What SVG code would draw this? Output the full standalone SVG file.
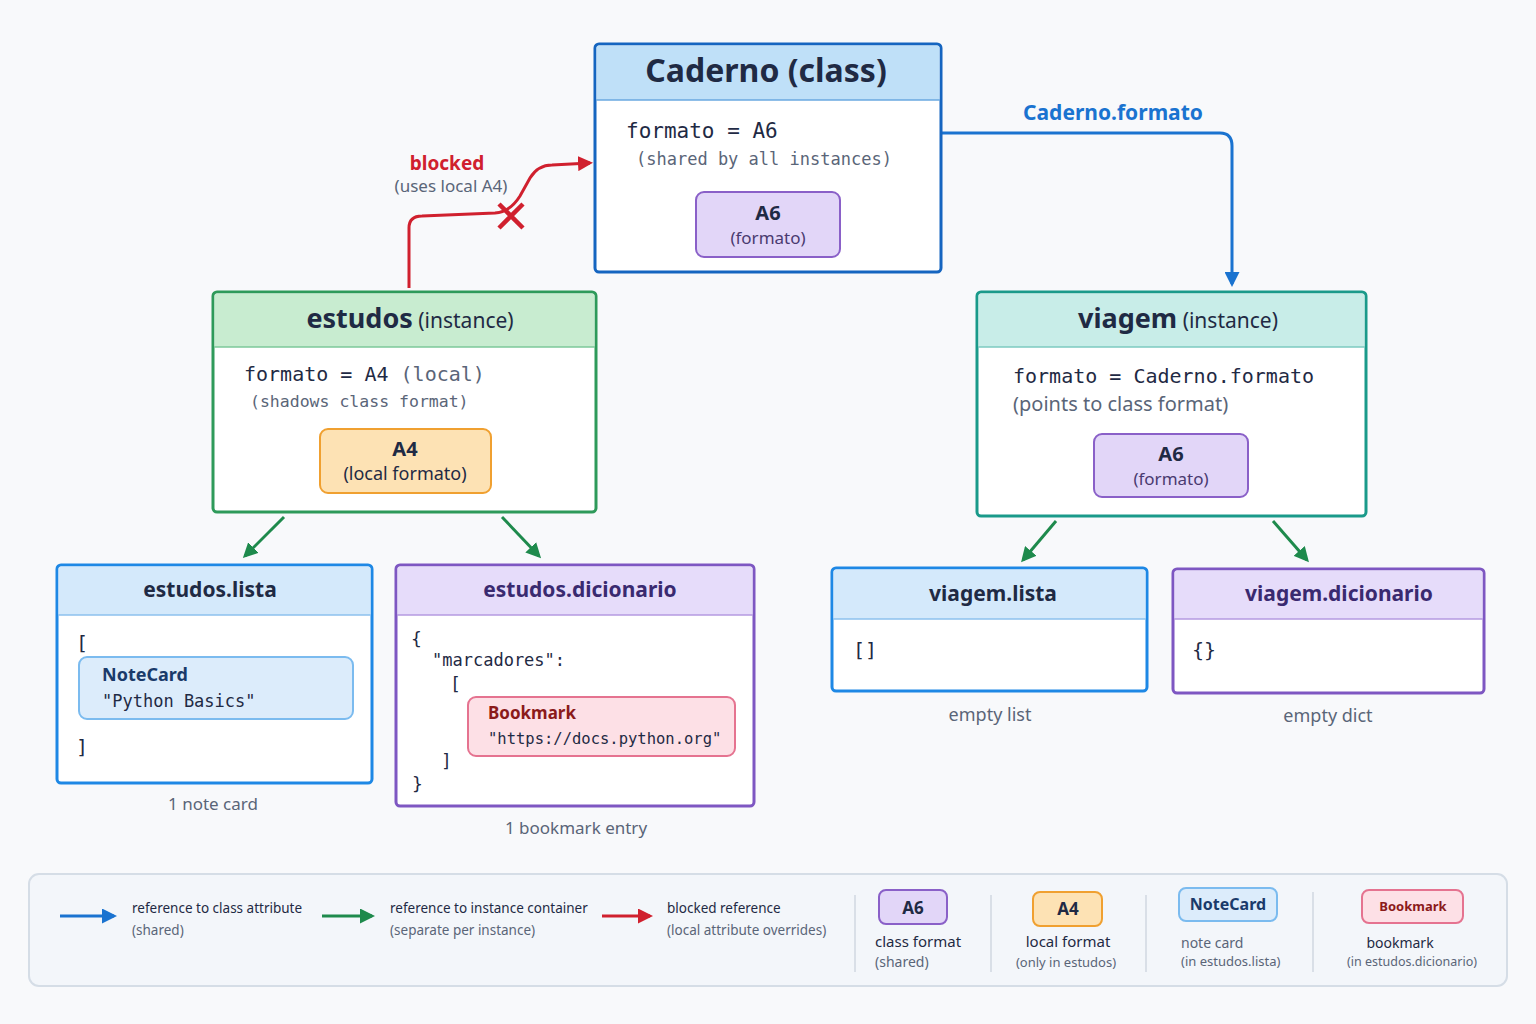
<svg xmlns="http://www.w3.org/2000/svg" width="1536" height="1024" viewBox="0 0 1536 1024">
<defs>
<style>
text{font-family:"Noto Sans","Liberation Sans",sans-serif;fill:#1f2a44}
.m{font-family:"DejaVu Sans Mono","Liberation Mono",monospace}
.b{font-weight:bold}
.g{fill:#5a6578}
.c{text-anchor:middle}
.box{stroke-width:3}
</style>
<marker id="ab" viewBox="0 0 10 10" refX="8" refY="5" markerWidth="5" markerHeight="5" orient="auto"><path d="M0,0L10,5L0,10z" fill="#1a73d0"/></marker>
<marker id="ag" viewBox="0 0 10 10" refX="8" refY="5" markerWidth="5" markerHeight="5" orient="auto"><path d="M0,0L10,5L0,10z" fill="#1e8a4c"/></marker>
<marker id="ar" viewBox="0 0 10 10" refX="8" refY="5" markerWidth="5" markerHeight="5" orient="auto"><path d="M0,0L10,5L0,10z" fill="#d0202e"/></marker>
</defs>
<rect width="1536" height="1024" fill="#f8f9fb"/>

<g id="connectors" fill="none" stroke-width="3">
<path d="M941,133 H1220 Q1232,133 1232,146 V284" stroke="#1a73d0" marker-end="url(#ab)"/>
<path d="M409,288 V228 Q409,216 422,216 L495,213 Q510,212 520,196 L530,178 Q538,165 552,165 L590,163" stroke="#d0202e" marker-end="url(#ar)"/>
<path d="M284,517 L245,556" stroke="#1e8a4c" marker-end="url(#ag)"/>
<path d="M502,517 L539,556" stroke="#1e8a4c" marker-end="url(#ag)"/>
<path d="M1056,521 L1023,560" stroke="#1e8a4c" marker-end="url(#ag)"/>
<path d="M1273,521 L1307,560" stroke="#1e8a4c" marker-end="url(#ag)"/>
<path d="M499,204 L523,228 M523,204 L499,228" stroke="#d0202e" stroke-width="4.5"/>
</g>
<text x="1113" y="120" class="c b" font-size="21" style="fill:#1a73d0">Caderno.formato</text>
<text x="447" y="170" class="c b" font-size="19" style="fill:#d0202e">blocked</text>
<text x="451" y="192" class="c g" font-size="17">(uses local A4)</text>

<g id="caderno">
<rect x="595" y="44" width="346" height="228" rx="4" fill="#fff" stroke="#1565c0" class="box"/>
<path d="M596.5,100 V48 Q596.5,45.5 599,45.5 H937 Q939.5,45.5 939.5,48 V100 Z" fill="#bfe0f8"/>
<line x1="596" y1="100" x2="940" y2="100" stroke="#6aa8e0" stroke-width="1.5"/>
<text x="766" y="82" class="c b" font-size="32">Caderno (class)</text>
<text x="626" y="138" class="m" font-size="21">formato = A6</text>
<text x="636" y="165" class="m g" font-size="17">(shared by all instances)</text>
<rect x="696" y="192" width="144" height="65" rx="8" fill="#e2d6f8" stroke="#8a60c8" stroke-width="2"/>
<text x="768" y="220" class="c b" font-size="20">A6</text>
<text x="768" y="244" class="c" font-size="17" style="fill:#4a3a70">(formato)</text>
</g>

<g id="estudos">
<rect x="213" y="292" width="383" height="220" rx="4" fill="#fff" stroke="#2e9a5a" class="box"/>
<path d="M214.5,347 V296 Q214.5,293.5 217,293.5 H592 Q594.5,293.5 594.5,296 V347 Z" fill="#c8ecd0"/>
<line x1="214" y1="347" x2="595" y2="347" stroke="#7cc89a" stroke-width="1.5"/>
<text x="410" y="328" class="c" font-size="21"><tspan class="b" font-size="27">estudos</tspan>  (instance)</text>
<text x="244" y="381" class="m" font-size="20">formato = A4  <tspan class="g">(local)</tspan></text>
<text x="250" y="407" class="m g" font-size="16.5">(shadows class format)</text>
<rect x="320" y="429" width="171" height="64" rx="8" fill="#fde2b4" stroke="#f0a030" stroke-width="2"/>
<text x="405" y="456" class="c b" font-size="20">A4</text>
<text x="405" y="480" class="c" font-size="18">(local formato)</text>
</g>

<g id="viagem">
<rect x="977" y="292" width="389" height="224" rx="4" fill="#fff" stroke="#1a9a8a" class="box"/>
<path d="M978.5,347 V296 Q978.5,293.5 981,293.5 H1362 Q1364.5,293.5 1364.5,296 V347 Z" fill="#c8ede8"/>
<line x1="978" y1="347" x2="1365" y2="347" stroke="#7ccac0" stroke-width="1.5"/>
<text x="1178" y="328" class="c" font-size="21"><tspan class="b" font-size="27">viagem</tspan>  (instance)</text>
<text x="1013" y="383" class="m" font-size="20">formato = Caderno.formato</text>
<text x="1013" y="411" class="g" font-size="20">(points to class format)</text>
<rect x="1094" y="434" width="154" height="63" rx="8" fill="#e2d6f8" stroke="#8a60c8" stroke-width="2"/>
<text x="1171" y="461" class="c b" font-size="20">A6</text>
<text x="1171" y="485" class="c" font-size="17" style="fill:#4a3a70">(formato)</text>
</g>

<g id="estudos-lista">
<rect x="57" y="565" width="315" height="218" rx="4" fill="#fff" stroke="#1e88e5" class="box"/>
<path d="M58.5,615 V569 Q58.5,566.5 61,566.5 H368 Q370.5,566.5 370.5,569 V615 Z" fill="#d4e9fb"/>
<line x1="58" y1="615" x2="371" y2="615" stroke="#8cc0ee" stroke-width="1.5"/>
<text x="210" y="597" class="c b" font-size="21">estudos.lista</text>
<text x="76" y="650" class="m" font-size="20">[</text>
<rect x="79" y="657" width="274" height="62" rx="8" fill="#dcecfb" stroke="#7bbbef" stroke-width="2"/>
<text x="102" y="681" class="b" font-size="18" style="fill:#1a3a6a">NoteCard</text>
<text x="102" y="707" class="m" font-size="17">"Python Basics"</text>
<text x="76" y="754" class="m" font-size="20">]</text>
<text x="213" y="810" class="c g" font-size="17">1 note card</text>
</g>

<g id="estudos-dicionario">
<rect x="396" y="565" width="358" height="241" rx="4" fill="#fff" stroke="#7e57c2" class="box"/>
<path d="M397.5,615 V569 Q397.5,566.5 400,566.5 H750 Q752.5,566.5 752.5,569 V615 Z" fill="#e6dcfa"/>
<line x1="397" y1="615" x2="753" y2="615" stroke="#b49ae0" stroke-width="1.5"/>
<text x="580" y="597" class="c b" font-size="21" style="fill:#3a2a70">estudos.dicionario</text>
<text x="411" y="645" class="m" font-size="18">{</text>
<text x="432" y="666" class="m" font-size="17">"marcadores":</text>
<text x="450" y="690" class="m" font-size="18">[</text>
<rect x="468" y="697" width="267" height="59" rx="8" fill="#fde0e6" stroke="#e57390" stroke-width="2"/>
<text x="488" y="719" class="b" font-size="17" style="fill:#8b1a1a">Bookmark</text>
<text x="488" y="744" class="m" font-size="15.5">"https://docs.python.org"</text>
<text x="441" y="767" class="m" font-size="18">]</text>
<text x="412" y="790" class="m" font-size="18">}</text>
<text x="576" y="834" class="c g" font-size="17">1 bookmark entry</text>
</g>

<g id="viagem-lista">
<rect x="832" y="568" width="315" height="123" rx="4" fill="#fff" stroke="#1e88e5" class="box"/>
<path d="M833.5,619 V572 Q833.5,569.5 836,569.5 H1143 Q1145.5,569.5 1145.5,572 V619 Z" fill="#d4e9fb"/>
<line x1="833" y1="619" x2="1146" y2="619" stroke="#8cc0ee" stroke-width="1.5"/>
<text x="993" y="601" class="c b" font-size="21">viagem.lista</text>
<text x="853" y="657" class="m" font-size="20">[]</text>
<text x="990" y="721" class="c g" font-size="18">empty list</text>
</g>

<g id="viagem-dicionario">
<rect x="1173" y="569" width="311" height="124" rx="4" fill="#fff" stroke="#7e57c2" class="box"/>
<path d="M1174.5,619 V573 Q1174.5,570.5 1177,570.5 H1480 Q1482.5,570.5 1482.5,573 V619 Z" fill="#e6dcfa"/>
<line x1="1174" y1="619" x2="1483" y2="619" stroke="#b49ae0" stroke-width="1.5"/>
<text x="1339" y="601" class="c b" font-size="21" style="fill:#3a2a70">viagem.dicionario</text>
<text x="1192" y="657" class="m" font-size="20">{}</text>
<text x="1328" y="722" class="c g" font-size="18">empty dict</text>
</g>

<g id="legend">
<rect x="29" y="874" width="1478" height="112" rx="10" fill="#f3f6fa" stroke="#d5dde6" stroke-width="2"/>
<line x1="60" y1="916" x2="114" y2="916" stroke="#1a73d0" stroke-width="3" marker-end="url(#ab)"/>
<text x="132" y="913" font-size="13.5">reference to class attribute</text>
<text x="132" y="935" class="g" font-size="13.5">(shared)</text>
<line x1="322" y1="916" x2="372" y2="916" stroke="#1e8a4c" stroke-width="3" marker-end="url(#ag)"/>
<text x="390" y="913" font-size="13.5">reference to instance container</text>
<text x="390" y="935" class="g" font-size="13.5">(separate per instance)</text>
<line x1="602" y1="916" x2="650" y2="916" stroke="#d0202e" stroke-width="3" marker-end="url(#ar)"/>
<text x="667" y="913" font-size="13.5">blocked reference</text>
<text x="667" y="935" class="g" font-size="13.5">(local attribute overrides)</text>
<g stroke="#d0d7e0" stroke-width="1.5"><line x1="855" y1="895" x2="855" y2="972"/><line x1="991" y1="895" x2="991" y2="972"/><line x1="1146" y1="895" x2="1146" y2="972"/><line x1="1313" y1="892" x2="1313" y2="972"/></g>
<rect x="879" y="890" width="68" height="34" rx="7" fill="#e2d6f8" stroke="#8a60c8" stroke-width="2"/>
<text x="913" y="914" class="c b" font-size="17">A6</text>
<text x="875" y="947" font-size="15">class format</text>
<text x="875" y="967" class="g" font-size="14">(shared)</text>
<rect x="1033" y="892" width="69" height="34" rx="7" fill="#fde2b4" stroke="#f0a030" stroke-width="2"/>
<text x="1068" y="915" class="c b" font-size="17">A4</text>
<text x="1068" y="947" class="c" font-size="15">local format</text>
<text x="1066" y="967" class="c g" font-size="13">(only in estudos)</text>
<rect x="1179" y="888" width="98" height="33" rx="7" fill="#dcecfb" stroke="#7bbbef" stroke-width="2"/>
<text x="1228" y="910" class="c b" font-size="16" style="fill:#1a3a6a">NoteCard</text>
<text x="1181" y="948" class="g" font-size="14">note card</text>
<text x="1181" y="966" class="g" font-size="13">(in estudos.lista)</text>
<rect x="1362" y="890" width="101" height="33" rx="7" fill="#fde0e6" stroke="#e57390" stroke-width="2"/>
<text x="1413" y="911" class="c b" font-size="13" style="fill:#8b1a1a">Bookmark</text>
<text x="1400" y="948" class="c" font-size="14">bookmark</text>
<text x="1412" y="966" class="c g" font-size="12.5">(in estudos.dicionario)</text>
</g>
</svg>
